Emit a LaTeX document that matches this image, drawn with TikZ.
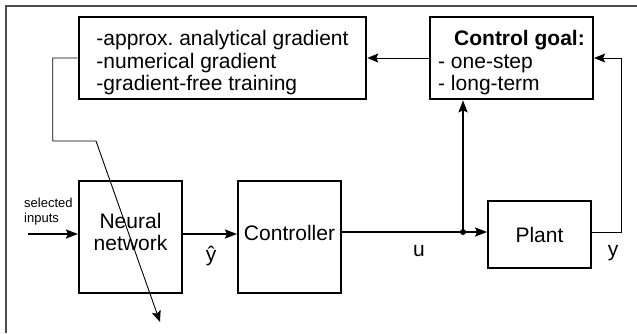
\documentclass[tikz,border=0pt]{standalone}
\usepackage{fontspec}
\setmainfont{Liberation Sans}
\usetikzlibrary{arrows.meta,positioning}
\frenchspacing

\begin{document}
\begin{tikzpicture}[x=1pt,y=-1pt,
    every node/.style={font=\fontsize{21}{22.5}\selectfont},
    topbox/.style={draw,line width=2.6pt,inner ysep=0pt,align=left,minimum height=82pt},
    block/.style={draw,line width=2pt,inner sep=0pt,align=center},
    sig/.style={line width=2pt,-{Stealth[length=12pt,width=9pt,inset=2pt]}},
    fb/.style={line width=0.9pt,-{Stealth[length=11pt,width=9pt,inset=2pt]}}]
    \useasboundingbox (0,0) rectangle (637,333);
    % frame
    \draw[gray!60!black,line width=1.6pt] (6,333) -- (6,6) -- (637,6);
    %% upper boxes
    \node[topbox,minimum width=287pt,inner xsep=17pt] (methods) at (222.5,58)
        {\rule{0pt}{25pt}-approx. analytical gradient\\-numerical gradient\\-gradient-free training};
    \node[topbox,minimum width=159pt,inner xsep=8pt] (goal) at (511.5,58)
        {\rule{0pt}{25pt}\hspace*{16pt}\textbf{Control goal:}\\- one-step\\- long-term};
    %% lower boxes
    \node[block,minimum width=103pt,minimum height=112pt] (nn) at (130.5,237)
        {Neural\\network\rule[-10pt]{0pt}{10pt}};
    \node[block,minimum width=103pt,minimum height=112pt,text depth=9pt] (ctrl) at (289.5,237) {Controller};
    \node[block,line width=1.8pt,minimum width=103pt,minimum height=67pt] (plant) at (539.5,234.5) {Plant};
    %% signals
    \coordinate (in) at (28,234);
    \coordinate (jn) at (463,232);
    \draw[sig] (in) -- (nn.west |- in);
    \draw[sig] (nn.east |- in) -- (ctrl.west |- in);
    \draw[line width=2pt] (ctrl.east |- jn) -- (jn);
    \draw[sig] (jn) -- (plant.west |- jn);
    \draw[sig] (jn) -- (goal.south -| jn);
    \fill (jn) circle (3pt);
    %% feedback lines
    \draw[fb] (plant.east |- jn) -- ++(30,0) |- (goal.east);
    \draw[fb] (goal.west) -- (methods.east);
    \coordinate (bend) at (96,141);
    \coordinate (tip) at (160,322);
    \draw[fb] (methods.west) -- ++(-25,0) |- (bend) -- (tip);
    %% labels
    \node[font=\fontsize{13}{14.5}\selectfont,align=left,anchor=south west,inner sep=0pt] (inlabel)
        at (24,225) {selected\\inputs};
    \node (yhat) at (211,256) {\^{y}};
    \node (ulabel) at (419,251) {u};
    \node (ylabel) at (613,253) {y};
\end{tikzpicture}
\end{document}
